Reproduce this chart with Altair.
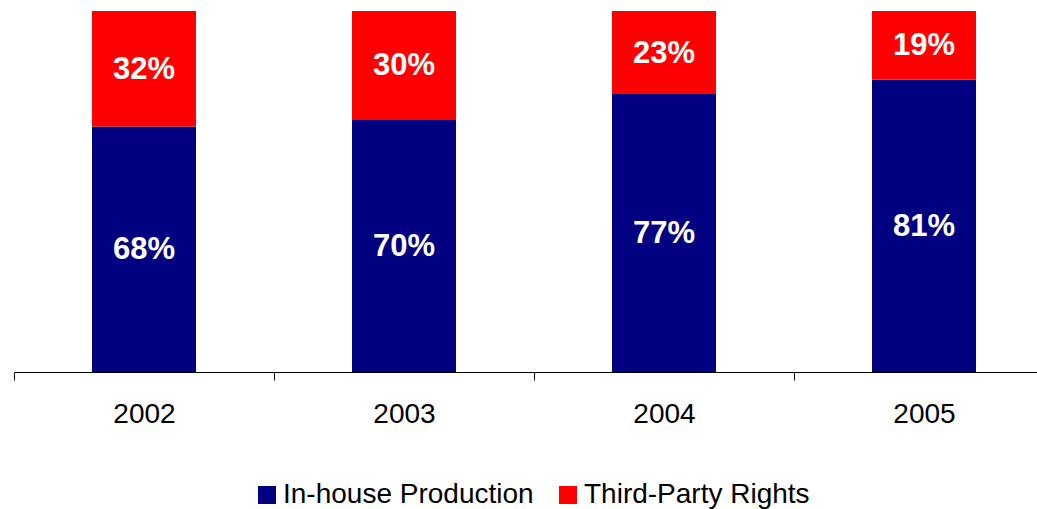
import altair as alt
import pandas as pd

years = ["2002", "2003", "2004", "2005"]
series = ["In-house Production", "Third-Party Rights"]
inhouse = [68, 70, 77, 81]
third_party = [32, 30, 23, 19]
colors = ["#000080", "#FF0000"]

rows = []
for i, y in enumerate(years):
    rows.append({"year": y, "series": series[0], "value": inhouse[i], "ord": 0})
    rows.append({"year": y, "series": series[1], "value": third_party[i], "ord": 1})
df = pd.DataFrame(rows)

FONT = "Liberation Sans"

x_enc = alt.X(
    "year:N",
    sort=years,
    title=None,
    scale=alt.Scale(range=[0, 1040], paddingInner=0, paddingOuter=0),
    axis=alt.Axis(
        tickBand="extent",
        domainColor="black",
        domainWidth=1,
        tickColor="black",
        tickWidth=1,
        tickSize=8,
        labelFontSize=28,
        labelFont=FONT,
        labelColor="black",
        labelPadding=20,
        labelAngle=0,
        grid=False,
    ),
)

bars = alt.Chart(df).mark_bar(size=104).encode(
    x=x_enc,
    y=alt.Y("value:Q", stack="zero", scale=alt.Scale(domain=[0, 100]), axis=None),
    color=alt.Color(
        "series:N",
        scale=alt.Scale(domain=series, range=colors),
        legend=alt.Legend(
            title=None,
            orient="none",
            legendX=239,
            legendY=470,
            direction="horizontal",
            symbolType="square",
            symbolSize=324,
            symbolStrokeWidth=0,
            labelFontSize=28,
            labelFont=FONT,
            labelColor="black",
            labelOffset=2,
            columnPadding=20,
            labelLimit=400,
        ),
    ),
    order=alt.Order("ord:Q"),
)

labels = alt.Chart(df).transform_stack(
    stack="value", groupby=["year"], as_=["y0", "y1"], sort=[alt.SortField("ord")]
).transform_calculate(
    mid="(datum.y0 + datum.y1) / 2",
    lbl="datum.value + '%'",
).mark_text(
    color="white", fontSize=31, fontWeight="bold", font=FONT, baseline="middle", align="center", dy=1
).encode(
    x=alt.X("year:N", sort=years),
    y=alt.Y("mid:Q", scale=alt.Scale(domain=[0, 100])),
    text="lbl:N",
)

chart = alt.layer(bars, labels).properties(
    width=1023,
    height=361,
    padding={"left": 14, "top": 11, "right": 0, "bottom": 137},
    autosize=alt.AutoSizeParams(type="none"),
    background="white",
).configure_view(stroke=None)

chart.save("out.html", embed_options={"renderer": "svg", "actions": False})
